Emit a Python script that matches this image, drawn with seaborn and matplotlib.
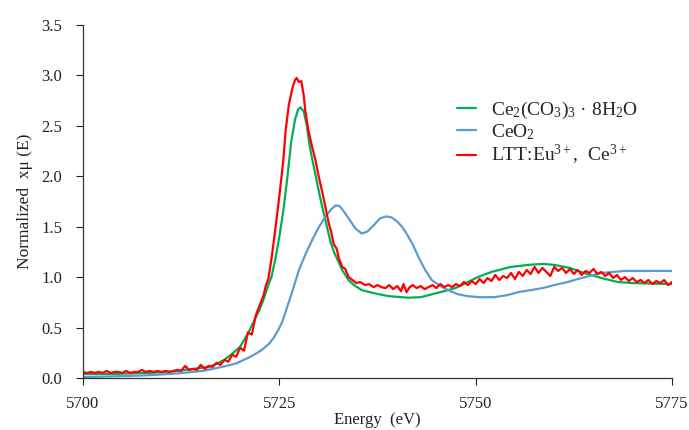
import numpy as np
import pandas as pd
import matplotlib
matplotlib.use("Agg")
import matplotlib.pyplot as plt
import seaborn as sns

# ---------------- data ----------------
green_label = "Ce$_2$(CO$_3$)$_3$ · 8H$_2$O"
blue_label = "CeO$_2$"
red_label = "LTT:Eu$^{3+}$,  Ce$^{3+}$"

green_e = [5700, 5702, 5704, 5706, 5708, 5710, 5712, 5714, 5716, 5717, 5718, 5719, 5720, 5721,
           5722, 5722.5, 5723, 5723.5, 5724, 5724.5, 5725, 5725.5, 5726, 5726.5, 5727, 5727.4,
           5727.7, 5728.1, 5728.5, 5728.8, 5729.1, 5729.5, 5730, 5730.5, 5731, 5731.3, 5731.5,
           5732, 5732.6, 5733, 5733.8, 5734.5, 5735.5, 5736.5, 5737.6, 5739, 5741.4, 5743,
           5744, 5745, 5746, 5747.4, 5748.5, 5750.3, 5752, 5754.5, 5756.7, 5758.5, 5760, 5762,
           5763.8, 5766, 5768.1, 5770, 5775]
green_v = [0.04, 0.04, 0.04, 0.045, 0.05, 0.055, 0.07, 0.09, 0.11, 0.14, 0.18, 0.24, 0.31, 0.44,
           0.60, 0.68, 0.78, 0.90, 1.00, 1.18, 1.40, 1.65, 1.97, 2.33, 2.56, 2.66,
           2.68, 2.64, 2.50, 2.33, 2.20, 2.05, 1.86, 1.68, 1.52, 1.42, 1.35,
           1.24, 1.14, 1.07, 0.97, 0.92, 0.87, 0.85, 0.83, 0.81, 0.795, 0.80,
           0.82, 0.84, 0.86, 0.89, 0.93, 1.00, 1.05, 1.10, 1.12, 1.13, 1.12, 1.09,
           1.04, 0.99, 0.95, 0.94, 0.93]

blue_e = [5700, 5703, 5706, 5709, 5712, 5714, 5715.2, 5716.5, 5718, 5719.5, 5720.5, 5721.3, 5722,
          5722.8, 5723.7, 5724.3, 5724.9, 5725.4, 5725.9, 5726.5, 5727.1, 5727.5, 5728.3, 5729.2,
          5730, 5730.9, 5731.6, 5732.2, 5732.7, 5733.3, 5734, 5734.7, 5735.5, 5736.2, 5737,
          5737.8, 5738.6, 5739.3, 5740, 5740.6, 5741.2, 5742, 5742.7, 5743.5, 5744.4, 5745.5,
          5746.5, 5747.7, 5749, 5750.5, 5752.4, 5754, 5755.4, 5757, 5758.5, 5760, 5761.7, 5763,
          5764.5, 5765.9, 5767.5, 5769, 5772, 5775]
blue_v = [0.01, 0.015, 0.02, 0.03, 0.045, 0.06, 0.07, 0.09, 0.115, 0.145, 0.18, 0.21, 0.24,
          0.28, 0.34, 0.40, 0.48, 0.56, 0.68, 0.82, 0.97, 1.07, 1.22, 1.37,
          1.49, 1.60, 1.67, 1.71, 1.70, 1.64, 1.56, 1.48, 1.43, 1.45, 1.51,
          1.58, 1.60, 1.59, 1.55, 1.50, 1.43, 1.32, 1.20, 1.08, 0.97, 0.91,
          0.87, 0.83, 0.81, 0.80, 0.80, 0.82, 0.85, 0.87, 0.89, 0.92, 0.95, 0.98,
          1.01, 1.04, 1.05, 1.06, 1.06, 1.06]

red_e = [5700, 5700.5, 5701, 5701.5, 5702, 5702.5, 5703, 5703.5, 5704, 5704.5, 5705, 5705.5,
         5706, 5706.5, 5707, 5707.5, 5708, 5708.5, 5709, 5709.5, 5710, 5710.5, 5711, 5711.5,
         5712, 5712.5, 5713, 5713.5, 5714, 5714.5, 5715, 5715.5, 5716, 5716.5, 5717, 5717.5,
         5718, 5718.5, 5719, 5719.5, 5720, 5720.5, 5721, 5721.5, 5722, 5722.5, 5723, 5723.3,
         5723.6, 5724, 5724.5, 5725, 5725.5, 5725.8, 5726.2, 5726.7, 5727, 5727.2, 5727.5,
         5727.8, 5728.1, 5728.3, 5728.7, 5729.2, 5729.6, 5730, 5730.5, 5730.9, 5731.3, 5731.6,
         5731.9, 5732.3, 5732.6, 5733, 5733.4, 5733.8, 5734.3, 5734.8, 5735.3, 5735.9, 5736.4,
         5737, 5737.5, 5738, 5738.5, 5739, 5739.5, 5740, 5740.5, 5740.8, 5741.2, 5741.6, 5742,
         5742.5, 5743, 5743.5, 5744, 5744.5, 5745, 5745.5, 5746, 5746.5, 5747, 5747.5, 5748,
         5748.5, 5749, 5749.5, 5750, 5750.5, 5751, 5751.5, 5752, 5752.5, 5753, 5753.5, 5754,
         5754.5, 5755, 5755.5, 5756, 5756.5, 5757, 5757.5, 5758, 5758.5, 5759, 5759.5, 5760,
         5760.5, 5761, 5761.5, 5762, 5762.5, 5763, 5763.5, 5764, 5764.5, 5765, 5765.5, 5766,
         5766.5, 5767, 5767.5, 5768, 5768.5, 5769, 5769.5, 5770, 5770.5, 5771, 5771.5, 5772,
         5772.5, 5773, 5773.5, 5774, 5774.5, 5775]
red_v = [0.06, 0.05, 0.06, 0.05, 0.06, 0.05, 0.07, 0.05, 0.06, 0.06, 0.05, 0.07,
         0.05, 0.06, 0.06, 0.08, 0.06, 0.07, 0.06, 0.07, 0.06, 0.07, 0.06, 0.07,
         0.08, 0.07, 0.12, 0.08, 0.09, 0.08, 0.13, 0.09, 0.12, 0.11, 0.15, 0.13,
         0.18, 0.16, 0.23, 0.21, 0.30, 0.27, 0.45, 0.43, 0.62, 0.72, 0.82, 0.92,
         0.98, 1.18, 1.48, 1.80, 2.15, 2.45, 2.70, 2.88, 2.95, 2.97, 2.93,
         2.94, 2.80, 2.65, 2.45, 2.28, 2.16, 2.00, 1.83, 1.68, 1.53, 1.45,
         1.33, 1.28, 1.18, 1.10, 1.08, 1.00, 0.97, 0.94, 0.95, 0.92, 0.93,
         0.90, 0.92, 0.90, 0.89, 0.92, 0.88, 0.91, 0.86, 0.93, 0.85, 0.90, 0.92,
         0.89, 0.91, 0.88, 0.90, 0.92, 0.89, 0.93, 0.90, 0.92, 0.90, 0.93, 0.91,
         0.95, 0.92, 0.96, 0.93, 0.98, 0.94, 0.99, 0.96, 1.02, 0.97, 1.01, 0.99,
         1.04, 0.98, 1.05, 1.01, 1.07, 1.03, 1.10, 1.04, 1.09, 1.05, 1.01, 1.10,
         1.06, 1.09, 1.04, 1.08, 1.03, 1.07, 1.02, 1.06, 1.04, 1.08, 1.03, 1.05,
         1.01, 1.04, 0.99, 1.02, 0.97, 1.00, 0.96, 0.99, 0.95, 0.97, 0.94, 0.97,
         0.93, 0.96, 0.94, 0.97, 0.92, 0.95]

x_ticks = [5700, 5725, 5750, 5775]
y_ticks = [0.0, 0.5, 1.0, 1.5, 2.0, 2.5, 3.0, 3.5]

# ---------------- style ----------------
sns.set_theme(style="ticks")
plt.rcParams["font.family"] = ["Liberation Serif", "DejaVu Serif"]
plt.rcParams["mathtext.fontset"] = "custom"
plt.rcParams["mathtext.rm"] = "Liberation Serif"
plt.rcParams["mathtext.it"] = "Liberation Serif:italic"
plt.rcParams["mathtext.bf"] = "Liberation Serif:bold"

W, H = 689, 430
fig = plt.figure(figsize=(W / 100, H / 100), dpi=100)
ax_l, ax_r, ax_t, ax_b = 83, 672, 24.5, 378
ax = fig.add_axes([ax_l / W, (H - ax_b) / H, (ax_r - ax_l) / W, (ax_b - ax_t) / H])

c_green = "#00B050"
c_blue = "#5B9BD5"
c_red = "#FF0000"

sns.lineplot(x=green_e, y=green_v, ax=ax, color=c_green, linewidth=1.6,
             label=green_label, sort=False, estimator=None)
sns.lineplot(x=blue_e, y=blue_v, ax=ax, color=c_blue, linewidth=1.6,
             label=blue_label, sort=False, estimator=None)
sns.lineplot(x=red_e, y=red_v, ax=ax, color=c_red, linewidth=1.6,
             label=red_label, sort=False, estimator=None)

ax.set_xlim(5700, 5775)
ax.set_ylim(0, 3.5)
ax.set_xticks(x_ticks)
ax.set_yticks(y_ticks)
ax.set_yticklabels([f"{v:.1f}" for v in y_ticks])
ax.tick_params(axis="both", direction="out", length=5, width=0.8, labelsize=12,
               colors="#222222")
ax.tick_params(axis="y", pad=10)
ax.tick_params(axis="x", pad=8)
for s in ["top", "right"]:
    ax.spines[s].set_visible(False)
for s in ["left", "bottom"]:
    ax.spines[s].set_color("#333333")
    ax.spines[s].set_linewidth(0.9)

ax.set_xlabel("Energy  (eV)", fontsize=12, color="#222222", labelpad=0)
ax.set_ylabel("Normalized  xμ (E)", fontsize=12.5, color="#222222", labelpad=6)

leg = ax.legend(loc="upper left", bbox_to_anchor=(0.622, 0.81), borderaxespad=0,
                frameon=False, fontsize=14, handlelength=0.95, handletextpad=0.8,
                labelspacing=0.08)

fig.savefig("out.png", dpi=100)
